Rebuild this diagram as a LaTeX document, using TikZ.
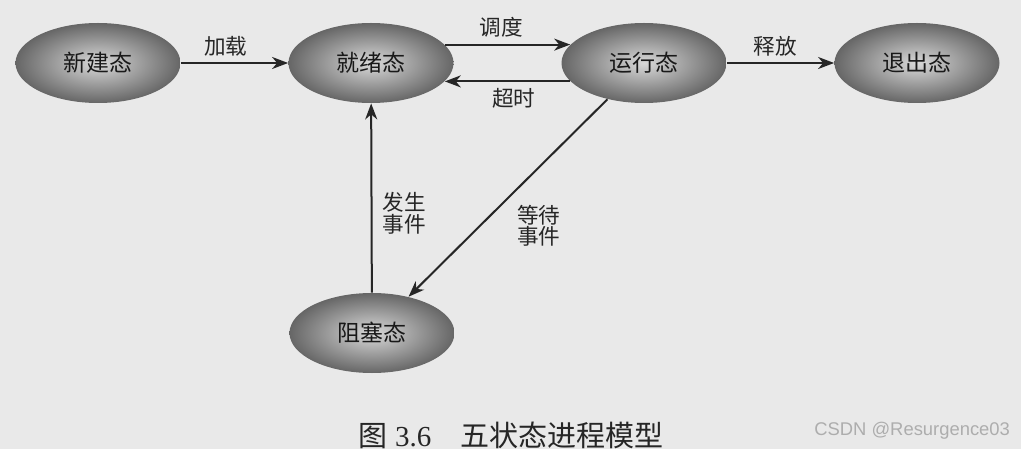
\documentclass[tikz,border=0pt]{standalone}
\usepackage{fontspec}
\setmainfont{Liberation Serif}
\newfontfamily\cjk{Noto Sans CJK SC}
\newfontfamily\marksans{Liberation Sans}
\usetikzlibrary{shapes.geometric, arrows.meta, positioning}
\definecolor{bgpaper}{RGB}{233,233,233}

\begin{document}
\begin{tikzpicture}[x=0.5pt, y=0.5pt,
      % States are shaded ellipses, transitions thin black arrows
      state/.style={ellipse, inner color=black!15, outer color=black!60,
      minimum width=82.5pt, minimum height=40pt, inner sep=0pt,
      font=\cjk\fontsize{11.5pt}{13pt}\selectfont, text=black!90},
      trans/.style={-{Stealth[length=8pt, width=6pt, inset=2.5pt]},
      line width=1pt, black!85},
      translabel/.style={font=\cjk\fontsize{10.8pt}{10.8pt}\selectfont,
      text=black!85, align=center, inner sep=1pt} ]
    % Paper
    \fill[bgpaper] (0,0) rectangle (1021,-449);

    % States
    \node[state] (new) at (98,-63) {新建态}; \node[state] (ready) at
    (371,-63) {就绪态}; \node[state] (run) at (644,-63) {运行态};
    \node[state] (exit) at (917,-63) {退出态}; \node[state] (block) at
    (372,-333) {阻塞态};

    % Transitions along the top
    \draw[trans] (new) -- node[translabel, pos=0.42, above=2pt] {加载} (ready);
    \draw[trans] (ready.14) -- node[translabel, pos=0.45, above=2pt] {调度}
    (run.166); \draw[trans] (run.194) -- node[translabel, pos=0.45,
    below=2pt] {超时} (ready.-14);
    \draw[trans] (run) -- node[translabel, pos=0.45, above=2pt] {释放} (exit);

    % Transitions through the blocked state
    \draw[trans] (block) -- node[translabel, pos=0.42, right=4pt] {发生\\事件}
    (ready);
    \draw[trans] (run) -- node[translabel, pos=0.5, anchor=north west,
    xshift=3pt, yshift=-2pt] {等待\\事件} (block);

    % Caption
    \node[font=\fontsize{14.5pt}{16pt}\selectfont, text=black!85] (caption)
    at (511,-435) {{\cjk 图}~3.6\quad{\cjk 五状态进程模型}};

    % Watermark
    \node[font=\marksans\fontsize{9.2pt}{11pt}\selectfont, text=black!32,
    anchor=east] (mark) at (1017,-431) {CSDN @Resurgence03};
  \end{tikzpicture}
\end{document}
